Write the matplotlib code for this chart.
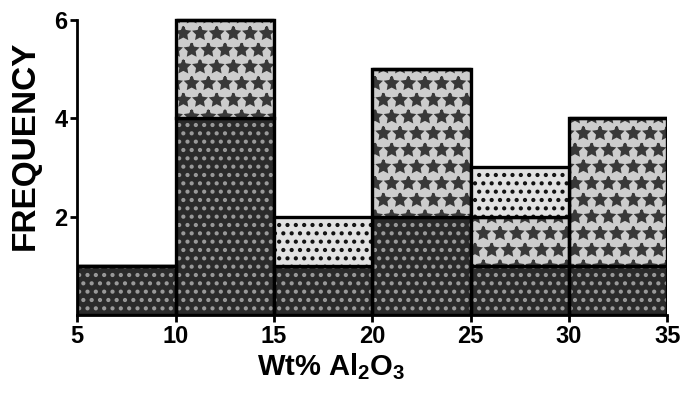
import matplotlib
matplotlib.use("Agg")
import matplotlib.pyplot as plt

plt.rcParams['font.family'] = ['Liberation Sans', 'DejaVu Sans']
plt.rcParams['font.weight'] = 'bold'
plt.rcParams['mathtext.fontset'] = 'custom'
plt.rcParams['mathtext.rm'] = 'Liberation Sans:bold'
plt.rcParams['mathtext.it'] = 'Liberation Sans:bold'
plt.rcParams['mathtext.default'] = 'rm'
plt.rcParams['hatch.linewidth'] = 1.8

# bin left edges (Wt% Al2O3), width 5
bin_left = [5, 10, 15, 20, 25, 30]
bin_width = 5
# stacked counts, bottom to top
dark_counts = [1, 4, 1, 2, 1, 1]
speckled_counts = [0, 2, 0, 3, 1, 3]
dotted_counts = [0, 0, 1, 0, 1, 0]

x_ticks = [5, 10, 15, 20, 25, 30, 35]
y_ticks = [2, 4, 6]

fig = plt.figure(figsize=(6.83, 3.94), dpi=100)
ax = fig.add_axes([0.113, 0.200, 0.864, 0.754])

layers = [
    (dark_counts, '#2b2b2b', '..', '#9a9a9a'),
    (speckled_counts, '#cdcdcd', '*', '#383838'),
    (dotted_counts, '#e2e2e2', '..', '#111111'),
]

bottom = [0] * len(bin_left)
for counts, face, hatch, hcol in layers:
    # fill + hatch (hatch colour comes from edgecolor)
    ax.bar(bin_left, counts, width=bin_width, bottom=bottom, align='edge',
           color=face, edgecolor=hcol, hatch=hatch, linewidth=0)
    # black outlines
    ax.bar(bin_left, counts, width=bin_width, bottom=bottom, align='edge',
           fill=False, edgecolor='black', linewidth=2.4)
    bottom = [b + c for b, c in zip(bottom, counts)]

ax.set_xlim(5, 35)
ax.set_ylim(0, 6.03)
ax.spines['top'].set_visible(False)
ax.spines['right'].set_visible(False)
ax.spines['left'].set_bounds(0, 6)
ax.spines['left'].set_linewidth(2)
ax.spines['bottom'].set_linewidth(2)

ax.set_xticks(x_ticks)
ax.set_yticks(y_ticks)
ax.tick_params(axis='both', labelsize=17, width=2, length=5, pad=2)

fig.text(0.037, 0.63, 'FREQUENCY', rotation=90, fontsize=24,
         fontweight='bold', ha='center', va='center')
ax.set_xlabel('Wt% Al$_2$O$_3$', fontsize=21, fontweight='bold')
ax.xaxis.set_label_coords(0.43, -0.12)

fig.savefig('out.png', dpi=100)
